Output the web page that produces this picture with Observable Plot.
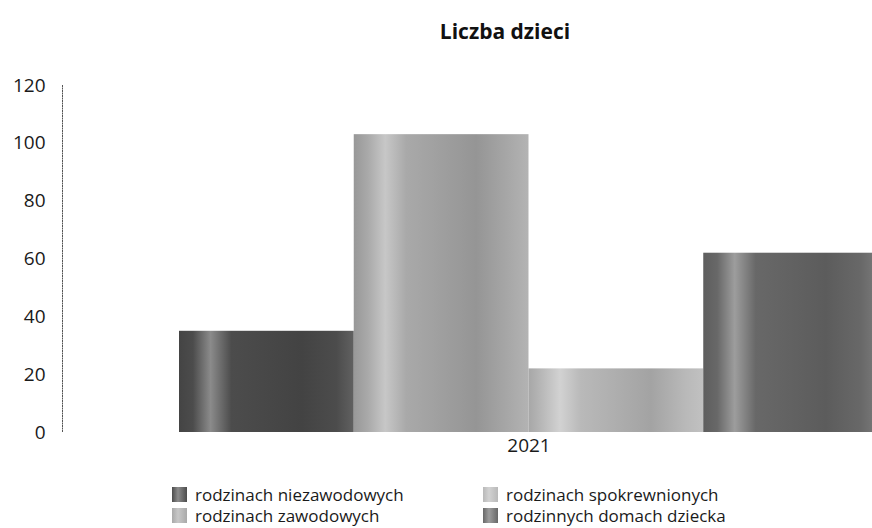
<!DOCTYPE html>
<html><head><meta charset="utf-8">
<script src="https://cdn.jsdelivr.net/npm/d3@7"></script>
<script src="https://cdn.jsdelivr.net/npm/@observablehq/plot@0.6"></script>
<style>
body{margin:0;background:#fff;font-family:"Open Sans",sans-serif;width:872px;overflow:hidden;}
#title{height:60px;line-height:62px;text-align:center;font-weight:bold;font-size:21px;color:#111;padding-left:138px;}
#chart{height:410px;}
#legend{display:grid;grid-template-columns:311px 300px;margin-left:172px;margin-top:14px;font-size:17px;color:#1a1a1a;line-height:21px;}
.item{display:flex;align-items:center;white-space:nowrap;}
.sw{width:15px;height:15px;margin-right:8px;flex:none;}
</style></head>
<body>
<div id="title">Liczba dzieci</div>
<div id="chart"></div>
<div id="legend"></div>
<script>
const year = "2021";
const series = ["rodzinach niezawodowych", "rodzinach zawodowych", "rodzinach spokrewnionych", "rodzinnych domach dziecka"];
const values = [35, 103, 22, 62];
const palette = ["#4c4c4c", "#a9a9a9", "#b9b9b9", "#686868"];
const yTicks = [0, 20, 40, 60, 80, 100, 120];
const legendOrder = [0, 2, 1, 3];

const data = series.map((s, i) => ({series: s, year, value: values[i], i}));
const gradIds = series.map((s, i) => `grad${i}`);

const plot = Plot.plot({
  width: 872,
  height: 410,
  marginLeft: 62,
  marginRight: 0,
  marginTop: 25,
  marginBottom: 38,
  style: {fontFamily: '"Open Sans", sans-serif', fontSize: "19px", color: "#1a1a1a", background: "#fff"},
  x: {domain: [0, series.length], range: [179, 878], label: null},
  y: {domain: [0, 120], label: null},
  color: {domain: series, range: gradIds.map(id => `url(#${id})`)},
  marks: [
    Plot.axisY({ticks: yTicks, tickSize: 0, tickPadding: 17, label: null, fontSize: 19}),
    Plot.axisX({ticks: [series.length / 2], tickFormat: () => year, tickSize: 0, tickPadding: 6, label: null, fontSize: 19}),
    Plot.frame({anchor: "left", stroke: "#555", strokeDasharray: "1,1.5", strokeWidth: 1}),
    Plot.rectY(data, {x1: d => d.i, x2: d => d.i + 1, y: "value", fill: "series"})
  ]
});

// gradients for the shaded bars
const defs = d3.select(plot).insert("defs", ":first-child");
function mix(c, t, k) { return d3.interpolateRgb(c, t)(k); }
palette.forEach((c, i) => {
  const g = defs.append("linearGradient").attr("id", gradIds[i]).attr("x1", "0").attr("x2", "1").attr("y1", "0").attr("y2", "0");
  const stops = [[0, mix(c, "#000", 0.1)], [0.08, c], [0.18, mix(c, "#fff", 0.35)], [0.3, c], [0.7, mix(c, "#000", 0.12)], [0.9, c], [1, mix(c, "#fff", 0.12)]];
  stops.forEach(([o, col]) => g.append("stop").attr("offset", o).attr("stop-color", col));
});
document.getElementById("chart").appendChild(plot);

const legend = d3.select("#legend");
legendOrder.forEach(i => {
  const it = legend.append("div").attr("class", "item");
  it.append("div").attr("class", "sw").style("background", `linear-gradient(90deg, ${palette[i]}, ${mix(palette[i], "#fff", 0.35)} 40%, ${palette[i]})`);
  it.append("span").text(series[i]);
});
</script>
</body></html>
